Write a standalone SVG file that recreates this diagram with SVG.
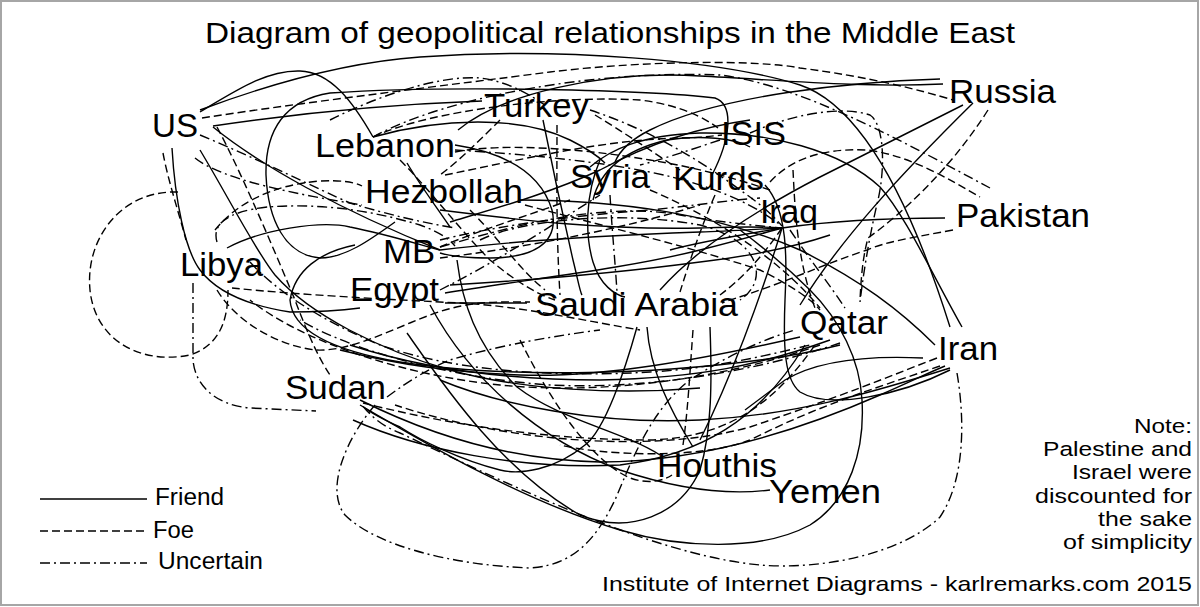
<svg xmlns="http://www.w3.org/2000/svg" width="1200" height="607" viewBox="0 0 1200 607">
<style>
.f{fill:none;stroke:#000;stroke-width:1.4}
.d{fill:none;stroke:#000;stroke-width:1.4;stroke-dasharray:8 4}
.u{fill:none;stroke:#000;stroke-width:1.4;stroke-dasharray:10 4 2 4}
text{font-family:"Liberation Sans",Arial,sans-serif;fill:#000}
.n{font-size:34px}
.s{font-size:23px}
.t{font-size:20.5px}
</style>
<rect x="1" y="1" width="1197" height="604" fill="#fff" stroke="#a6a6a6" stroke-width="2"/>
<text x="205" y="43" font-size="30" textLength="810" lengthAdjust="spacingAndGlyphs">Diagram of geopolitical relationships in the Middle East</text>
<g id="connectors">
<path class="f" d="M200,110 C280,80 350,62 420,57 C560,47 720,60 800,85 C860,105 910,200 950,327"/>
<path class="f" d="M200,112 C240,88 268,70 300,71 C330,72 352,100 373,137"/>
<path class="d" d="M202,118 C320,100 450,85 550,72 C650,60 760,60 800,68 C870,77 920,90 953,100"/>
<path class="f" d="M213,126 C300,113 400,104 482,101"/>
<path class="f" d="M395,222 C370,240 345,258 320,258 C285,255 268,220 266,175 C265,130 285,100 330,93 C450,85 650,90 715,98 C735,105 730,140 712,175"/>
<path class="u" d="M373,137 C450,95 600,70 720,75 C800,85 900,140 990,188"/>
<path class="d" d="M373,137 C430,110 560,95 640,100 C680,105 705,118 718,128"/>
<path class="f" d="M373,137 C440,118 520,115 570,140 C590,150 600,158 605,163"/>
<path class="f" d="M940,79 C850,82 720,95 650,130 C630,140 620,150 615,162"/>
<path class="f" d="M943,84 C860,88 780,80 700,76 C600,70 500,95 458,130"/>
<path class="f" d="M963,105 L820,177 C760,208 700,245 660,290"/>
<path class="f" d="M973,103 C900,175 840,240 800,305"/>
<path class="d" d="M988,110 C950,170 900,215 868,238 C862,260 861,282 860,300"/>
<path class="d" d="M953,230 C910,238 885,242 867,250 C830,262 800,276 760,290 C740,297 730,300 722,303"/>
<path class="f" d="M945,218 C880,218 830,221 782,228 C740,235 700,242 670,250"/>
<path class="u" d="M750,133 C790,115 840,105 870,115 C885,125 885,170 878,200 C872,225 865,260 860,302"/>
<path class="d" d="M770,182 C790,160 820,148 867,150 C910,155 950,180 980,197"/>
<path class="f" d="M590,167 C610,150 640,135 700,133 C770,132 840,150 880,187 C905,215 930,270 962,327"/>
<path class="d" d="M793,170 C795,210 797,260 815,308"/>
<path class="f" d="M765,185 C788,210 787,260 785,300 C783,350 785,380 800,392 C830,410 900,395 950,370"/>
<path class="f" d="M923,358 C860,355 815,362 785,380 L745,410"/>
<path class="d" d="M937,358 C880,380 850,393 750,427 C650,455 500,440 395,405"/>
<path class="f" d="M950,368 C880,390 800,415 700,420 C600,425 500,405 440,380"/>
<path class="d" d="M940,366 C870,390 820,405 750,440 C700,460 600,455 560,445"/>
<path class="u" d="M957,373 C965,420 965,480 940,517 C900,555 820,570 760,565 C650,555 500,480 400,433 C380,425 370,415 362,405"/>
<path class="f" d="M800,337 C700,360 600,378 520,375 C450,372 400,365 340,350"/>
<path class="f" d="M830,340 C760,365 700,378 600,380 C500,380 420,368 350,345"/>
<path class="u" d="M840,343 C760,370 650,390 550,385 C450,378 350,350 300,320"/>
<path class="d" d="M820,345 C720,380 600,395 500,385 C400,375 300,340 250,300"/>
<path class="f" d="M360,405 C420,440 520,500 620,530 C680,548 760,552 810,525 C850,500 865,450 862,400 C860,360 840,320 810,290 C790,270 760,245 740,230"/>
<path class="f" d="M407,333 C440,380 500,470 580,515 C630,535 680,515 700,470 C712,430 712,380 710,327"/>
<path class="f" d="M637,327 C625,370 605,430 585,445 C555,470 520,475 500,470 C460,460 420,440 400,427 C380,418 370,412 365,408"/>
<path class="f" d="M647,327 C650,370 670,410 693,447"/>
<path class="d" d="M693,330 C690,370 688,410 683,445"/>
<path class="d" d="M520,340 C550,400 590,460 630,478 C650,485 665,480 672,475"/>
<path class="u" d="M375,405 C345,440 325,490 345,515 C375,545 450,565 530,568 C580,565 600,530 615,500 C630,465 650,410 690,380 C720,360 760,340 795,330"/>
<path class="f" d="M457,260 C462,300 475,345 517,387 C560,420 620,430 660,455"/>
<path class="f" d="M430,305 C470,380 540,440 620,470 C680,490 730,495 770,490"/>
<path class="d" d="M163,153 C168,180 178,210 186,240"/>
<path class="f" d="M172,148 C175,200 185,250 200,270 C215,290 245,305 290,312 C320,312 345,310 360,308"/>
<path class="u" d="M195,158 C222,180 300,195 362,205"/>
<path class="u" d="M200,135 C260,160 320,190 350,203 C390,215 420,222 455,228"/>
<path class="d" d="M217,127 C240,170 270,240 295,300 C310,340 320,360 330,375"/>
<path class="f" d="M213,127 C260,165 340,210 440,250"/>
<path class="f" d="M200,150 C230,200 255,250 275,275 C310,315 380,350 450,370 C520,390 620,395 700,388"/>
<path class="d" d="M215,230 C235,205 270,185 320,181 C340,180 355,182 362,186"/>
<path class="u" d="M217,242 C212,225 225,212 267,207 C320,203 370,210 420,225 C440,232 450,240 455,246"/>
<path class="f" d="M227,248 C260,230 320,220 350,227 C390,235 420,245 440,250"/>
<path class="d" d="M178,192 C120,190 85,240 90,290 C95,340 140,365 190,355 C220,345 228,320 228,290"/>
<path class="u" d="M193,283 L193,360 C195,385 215,405 250,408 L316,411"/>
<path class="d" d="M217,290 C235,320 275,345 315,350 C350,352 390,330 430,315 C470,300 500,302 530,302"/>
<path class="d" d="M232,288 C300,295 400,300 460,303 C520,306 580,320 640,330"/>
<path class="f" d="M355,245 C320,252 295,270 290,300 C292,330 330,350 400,362 C500,378 650,375 760,360 C800,355 820,350 840,345"/>
<path class="u" d="M250,262 C275,290 320,320 380,345 C450,370 550,378 650,372 C720,368 780,352 810,345"/>
<path class="f" d="M360,400 C420,430 500,460 600,462 C700,462 800,430 880,395 C910,382 930,372 945,366"/>
<path class="f" d="M353,420 C420,450 520,470 620,465 C700,455 760,420 805,345"/>
<path class="d" d="M363,403 C450,425 550,440 650,440 C720,438 770,410 815,345"/>
<path class="u" d="M387,397 C410,380 430,368 450,360 C500,345 560,335 600,330"/>
<path class="f" d="M543,120 C553,170 565,225 573,260 C578,280 580,292 582,295"/>
<path class="d" d="M557,125 C557,180 556,230 560,295"/>
<path class="f" d="M455,145 C500,152 540,170 552,210 C560,245 530,258 490,258 C465,258 450,256 440,253"/>
<path class="f" d="M450,222 C500,207 550,193 600,170 C650,143 700,127 750,120"/>
<path class="f" d="M600,160 C585,195 585,235 593,262 C600,285 615,295 625,297"/>
<path class="f" d="M593,200 C600,170 625,150 667,140 C700,135 735,138 750,147"/>
<path class="f" d="M440,210 C520,220 600,230 700,228 C730,227 755,226 782,228"/>
<path class="d" d="M445,175 C520,160 600,140 680,138 C700,138 712,136 722,135"/>
<path class="u" d="M590,110 C650,130 700,160 740,190 C755,200 770,212 782,226"/>
<path class="d" d="M595,115 C620,130 650,150 680,170"/>
<path class="f" d="M440,250 C520,240 620,235 700,232 C730,231 760,229 782,228"/>
<path class="u" d="M440,247 C500,230 600,200 680,215 C720,222 750,225 782,228"/>
<path class="d" d="M440,247 C480,230 530,215 570,200"/>
<path class="f" d="M445,293 C520,280 620,270 700,250 C740,240 760,234 782,228"/>
<path class="f" d="M445,303 L527,303"/>
<path class="f" d="M450,285 C533,280 617,273 700,262 C760,255 800,245 830,235"/>
<path class="u" d="M440,290 C500,260 560,220 600,195"/>
<path class="d" d="M470,210 C500,240 520,270 545,290"/>
<path class="d" d="M715,195 C700,230 690,260 680,292"/>
<path class="u" d="M610,195 C612,230 615,260 617,292"/>
<path class="d" d="M440,258 C520,248 620,230 700,205"/>
<path class="f" d="M520,200 C620,200 720,215 800,250 C860,280 900,310 935,345"/>
<path class="d" d="M525,205 C620,230 700,250 760,270 C790,285 810,298 820,310"/>
<path class="u" d="M455,150 C540,155 640,165 700,185 C740,198 760,210 782,226"/>
<path class="d" d="M400,160 C430,190 460,230 490,260 C520,285 540,295 555,300"/>
<path class="f" d="M407,163 C420,185 435,205 450,227"/>
<path class="d" d="M500,120 C480,140 460,160 440,175"/>
<path class="u" d="M720,140 C690,150 660,160 640,165"/>
<path class="d" d="M782,228 C760,260 740,280 720,295"/>
<path class="u" d="M790,230 C810,260 830,285 845,308"/>
<path class="f" d="M782,228 C760,300 730,380 700,440"/>
<path class="d" d="M650,190 C720,220 780,260 820,308"/>
<path class="u" d="M480,240 C520,220 620,210 700,225 C760,240 770,280 740,300"/>
<path class="d" d="M455,152 C500,143 580,148 650,160 C700,168 740,180 770,190"/>
<path class="u" d="M440,240 C480,230 550,217 650,210 C700,205 730,200 760,198"/>
<path class="u" d="M330,120 C380,95 440,75 480,78 C510,82 530,95 545,105"/>
</g>
<g id="US"><text class="n" x="152" y="137" textLength="46" lengthAdjust="spacingAndGlyphs">US</text></g>
<g id="Lebanon"><text class="n" x="315" y="157" textLength="140" lengthAdjust="spacingAndGlyphs">Lebanon</text></g>
<g id="Turkey"><text class="n" x="484" y="117" textLength="105" lengthAdjust="spacingAndGlyphs">Turkey</text></g>
<g id="ISIS"><text class="n" x="721" y="145" textLength="65" lengthAdjust="spacingAndGlyphs">ISIS</text></g>
<g id="Russia"><text class="n" x="949" y="103" textLength="107" lengthAdjust="spacingAndGlyphs">Russia</text></g>
<g id="Syria"><text class="n" x="570" y="188" textLength="80" lengthAdjust="spacingAndGlyphs">Syria</text></g>
<g id="Kurds"><text class="n" x="673" y="190" textLength="91" lengthAdjust="spacingAndGlyphs">Kurds</text></g>
<g id="Hezbollah"><text class="n" x="365" y="203" textLength="158" lengthAdjust="spacingAndGlyphs">Hezbollah</text></g>
<g id="Iraq"><text class="n" x="760" y="223" textLength="58" lengthAdjust="spacingAndGlyphs">Iraq</text></g>
<g id="Pakistan"><text class="n" x="956" y="227" textLength="134" lengthAdjust="spacingAndGlyphs">Pakistan</text></g>
<g id="MB"><text class="n" x="383" y="263" textLength="52" lengthAdjust="spacingAndGlyphs">MB</text></g>
<g id="Libya"><text class="n" x="180" y="276" textLength="83" lengthAdjust="spacingAndGlyphs">Libya</text></g>
<g id="Egypt"><text class="n" x="350" y="301" textLength="89" lengthAdjust="spacingAndGlyphs">Egypt</text></g>
<g id="SaudiArabia"><text class="n" x="535" y="316" textLength="203" lengthAdjust="spacingAndGlyphs">Saudi Arabia</text></g>
<g id="Qatar"><text class="n" x="800" y="334" textLength="88" lengthAdjust="spacingAndGlyphs">Qatar</text></g>
<g id="Iran"><text class="n" x="938" y="360" textLength="60" lengthAdjust="spacingAndGlyphs">Iran</text></g>
<g id="Sudan"><text class="n" x="285" y="399" textLength="101" lengthAdjust="spacingAndGlyphs">Sudan</text></g>
<g id="Houthis"><text class="n" x="657" y="477" textLength="120" lengthAdjust="spacingAndGlyphs">Houthis</text></g>
<g id="Yemen"><text class="n" x="769" y="503" textLength="112" lengthAdjust="spacingAndGlyphs">Yemen</text></g>
<g id="legend">
<line class="f" x1="40" y1="499" x2="147" y2="499"/>
<line class="d" x1="40" y1="531" x2="147" y2="531"/>
<line class="u" x1="40" y1="563" x2="147" y2="563"/>
<text class="s" x="155" y="505" textLength="69" lengthAdjust="spacingAndGlyphs">Friend</text>
<text class="s" x="153" y="538" textLength="41" lengthAdjust="spacingAndGlyphs">Foe</text>
<text class="s" x="158" y="569" textLength="105" lengthAdjust="spacingAndGlyphs">Uncertain</text>
</g>
<g id="note" text-anchor="end">
<text class="t" x="1192" y="433" textLength="58" lengthAdjust="spacingAndGlyphs">Note:</text>
<text class="t" x="1192" y="456" textLength="149" lengthAdjust="spacingAndGlyphs">Palestine and</text>
<text class="t" x="1192" y="479" textLength="120" lengthAdjust="spacingAndGlyphs">Israel were</text>
<text class="t" x="1192" y="503" textLength="157" lengthAdjust="spacingAndGlyphs">discounted for</text>
<text class="t" x="1192" y="526" textLength="94" lengthAdjust="spacingAndGlyphs">the sake</text>
<text class="t" x="1192" y="549" textLength="129" lengthAdjust="spacingAndGlyphs">of simplicity</text>
</g>
<text x="602" y="591" font-size="21" textLength="590" lengthAdjust="spacingAndGlyphs">Institute of Internet Diagrams - karlremarks.com 2015</text>
</svg>
